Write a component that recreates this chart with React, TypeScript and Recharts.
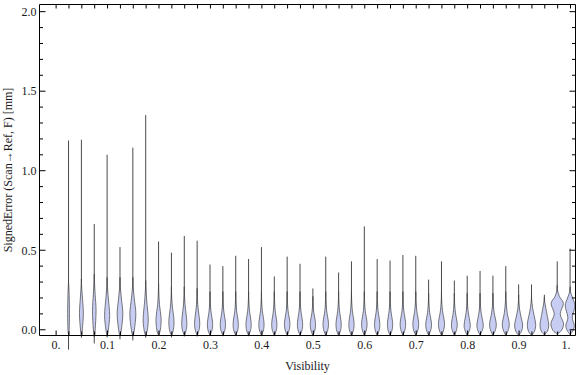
import React from "react";
import { ComposedChart, Bar, XAxis, YAxis } from "recharts";

// visibility bins (one violin per bin)
const visibility = [
  0.025, 0.05, 0.075, 0.1, 0.125, 0.15, 0.175, 0.2, 0.225, 0.25,
  0.275, 0.3, 0.325, 0.35, 0.375, 0.4, 0.425, 0.45, 0.475, 0.5,
  0.525, 0.55, 0.575, 0.6, 0.625, 0.65, 0.675, 0.7, 0.725, 0.75,
  0.775, 0.8, 0.825, 0.85, 0.875, 0.9, 0.925, 0.95, 0.975, 1.0,
];

// largest signed error per bin [mm]
const errMax = [
  1.19, 1.195, 0.665, 1.1, 0.52, 1.145, 1.35, 0.555, 0.485, 0.59,
  0.56, 0.41, 0.4, 0.465, 0.445, 0.52, 0.335, 0.46, 0.415, 0.26,
  0.46, 0.36, 0.43, 0.65, 0.445, 0.435, 0.47, 0.465, 0.315, 0.43,
  0.31, 0.34, 0.37, 0.34, 0.4, 0.285, 0.285, 0.22, 0.43, 0.51,
];

// smallest signed error per bin [mm]
const errMin = [
  -0.125, -0.05, -0.086, -0.048, -0.06, -0.067, -0.05, -0.036, -0.048, -0.042,
  -0.042, -0.04, -0.04, -0.04, -0.04, -0.04, -0.04, -0.04, -0.04, -0.04,
  -0.04, -0.04, -0.04, -0.04, -0.04, -0.04, -0.04, -0.04, -0.04, -0.04,
  -0.04, -0.04, -0.04, -0.04, -0.04, -0.04, -0.04, -0.035, -0.03, -0.03,
];

// estimated density profile per bin: [error, relative density]
const density: [number, number][][] = [
  [[-0.03, 0], [0.0, 0.2], [0.1, 0.3], [0.22, 0.2], [0.3, 0]],
  [[-0.04, 0], [0.0, 0.3], [0.1, 0.65], [0.2, 0.35], [0.27, 0.08], [0.32, 0]],
  [[-0.045, 0], [0.0, 0.3], [0.12, 0.6], [0.22, 0.3], [0.3, 0.08], [0.35, 0]],
  [[-0.04, 0], [0.0, 0.4], [0.09, 0.85], [0.2, 0.4], [0.28, 0.08], [0.33, 0]],
  [[-0.04, 0], [0.0, 0.45], [0.1, 0.95], [0.2, 0.45], [0.28, 0.08], [0.33, 0]],
  [[-0.04, 0], [0.0, 0.5], [0.1, 1.0], [0.2, 0.45], [0.28, 0.08], [0.33, 0]],
  [[-0.04, 0], [0.0, 0.55], [0.07, 0.85], [0.18, 0.35], [0.26, 0.08], [0.31, 0]],
  [[-0.035, 0], [0.0, 0.6], [0.07, 0.85], [0.16, 0.3], [0.24, 0.06], [0.29, 0]],
  [[-0.035, 0], [0.0, 0.65], [0.06, 0.85], [0.15, 0.3], [0.22, 0.06], [0.27, 0]],
  [[-0.035, 0], [0.0, 0.65], [0.05, 0.85], [0.15, 0.3], [0.22, 0.06], [0.27, 0]],
  [[-0.035, 0], [0.0, 0.65], [0.05, 0.85], [0.14, 0.3], [0.21, 0.06], [0.26, 0]],
  [[-0.035, 0], [0.0, 0.7], [0.045, 0.85], [0.12, 0.3], [0.19, 0.06], [0.24, 0]],
  [[-0.035, 0], [0.0, 0.7], [0.045, 0.85], [0.12, 0.3], [0.19, 0.06], [0.24, 0]],
  [[-0.035, 0], [0.0, 0.7], [0.045, 0.85], [0.12, 0.3], [0.19, 0.06], [0.24, 0]],
  [[-0.035, 0], [0.0, 0.7], [0.045, 0.85], [0.12, 0.3], [0.19, 0.06], [0.24, 0]],
  [[-0.035, 0], [0.0, 0.7], [0.045, 0.85], [0.12, 0.3], [0.19, 0.06], [0.24, 0]],
  [[-0.035, 0], [0.0, 0.7], [0.045, 0.85], [0.12, 0.3], [0.19, 0.06], [0.24, 0]],
  [[-0.035, 0], [0.0, 0.7], [0.045, 0.9], [0.12, 0.3], [0.19, 0.06], [0.24, 0]],
  [[-0.035, 0], [0.0, 0.7], [0.045, 0.85], [0.12, 0.3], [0.19, 0.06], [0.24, 0]],
  [[-0.035, 0], [0.0, 0.7], [0.045, 0.85], [0.11, 0.3], [0.17, 0.06], [0.21, 0]],
  [[-0.035, 0], [0.0, 0.7], [0.045, 0.9], [0.12, 0.3], [0.19, 0.06], [0.24, 0]],
  [[-0.035, 0], [0.0, 0.7], [0.045, 0.85], [0.12, 0.3], [0.19, 0.06], [0.24, 0]],
  [[-0.035, 0], [0.0, 0.7], [0.045, 0.85], [0.12, 0.3], [0.19, 0.06], [0.24, 0]],
  [[-0.035, 0], [0.0, 0.7], [0.045, 0.9], [0.12, 0.3], [0.19, 0.06], [0.24, 0]],
  [[-0.035, 0], [0.0, 0.7], [0.045, 0.85], [0.12, 0.3], [0.19, 0.06], [0.24, 0]],
  [[-0.035, 0], [0.0, 0.7], [0.045, 0.85], [0.12, 0.3], [0.19, 0.06], [0.24, 0]],
  [[-0.035, 0], [0.0, 0.7], [0.045, 0.9], [0.12, 0.3], [0.19, 0.06], [0.24, 0]],
  [[-0.035, 0], [0.0, 0.75], [0.045, 0.95], [0.12, 0.35], [0.19, 0.06], [0.24, 0]],
  [[-0.035, 0], [0.0, 0.75], [0.04, 0.95], [0.11, 0.35], [0.18, 0.06], [0.23, 0]],
  [[-0.035, 0], [0.0, 0.75], [0.045, 1.0], [0.12, 0.35], [0.19, 0.06], [0.24, 0]],
  [[-0.035, 0], [0.0, 0.75], [0.04, 0.95], [0.11, 0.35], [0.18, 0.06], [0.23, 0]],
  [[-0.035, 0], [0.0, 0.8], [0.035, 1.0], [0.11, 0.35], [0.18, 0.06], [0.23, 0]],
  [[-0.035, 0], [0.0, 0.8], [0.035, 1.05], [0.11, 0.35], [0.18, 0.06], [0.23, 0]],
  [[-0.035, 0], [0.0, 0.85], [0.04, 1.1], [0.11, 0.4], [0.18, 0.06], [0.23, 0]],
  [[-0.035, 0], [0.0, 0.85], [0.04, 1.15], [0.11, 0.45], [0.19, 0.08], [0.24, 0]],
  [[-0.035, 0], [-0.01, 0.95], [0.03, 1.35], [0.08, 0.8], [0.13, 0.3], [0.18, 0.06], [0.22, 0]],
  [[-0.035, 0], [-0.01, 1.0], [0.035, 1.4], [0.09, 0.85], [0.14, 0.35], [0.19, 0.06], [0.23, 0]],
  [[-0.03, 0], [-0.01, 1.0], [0.03, 1.45], [0.09, 0.95], [0.14, 0.45], [0.18, 0.1], [0.205, 0]],
  [[-0.025, 0], [-0.005, 1.4], [0.04, 2.1], [0.1, 1.0], [0.165, 2.05], [0.21, 0.7], [0.25, 0.1], [0.28, 0]],
  [[-0.03, 0], [0.0, 1.1], [0.03, 1.4], [0.077, 0.75], [0.15, 1.6], [0.2, 0.85], [0.24, 0.1], [0.27, 0]],
];

const xTicks = [
  0, 0.025, 0.05, 0.075, 0.1, 0.125, 0.15, 0.175, 0.2, 0.225, 0.25,
  0.275, 0.3, 0.325, 0.35, 0.375, 0.4, 0.425, 0.45, 0.475, 0.5,
  0.525, 0.55, 0.575, 0.6, 0.625, 0.65, 0.675, 0.7, 0.725, 0.75,
  0.775, 0.8, 0.825, 0.85, 0.875, 0.9, 0.925, 0.95, 0.975, 1.0,
];
const xLabels = ["0.", "0.1", "0.2", "0.3", "0.4", "0.5", "0.6", "0.7", "0.8", "0.9", "1."];
const yTicks = [
  0, 0.1, 0.2, 0.3, 0.4, 0.5, 0.6, 0.7, 0.8, 0.9, 1.0,
  1.1, 1.2, 1.3, 1.4, 1.5, 1.6, 1.7, 1.8, 1.9, 2.0,
];
const yLabels = ["0.0", "0.5", "1.0", "1.5", "2.0"];

const data = visibility.map((v, i) => ({
  x: v,
  lo: errMin[i],
  hi: errMax[i],
  profile: density[i],
}));

const FONT = "'Liberation Serif', 'Times New Roman', serif";
const X_DOMAIN = [-0.0323, 1.0097];
const Y_DOMAIN = [-0.036, 2.045];

const isStep = (v: number, step: number) => Math.abs(v / step - Math.round(v / step)) < 1e-6;

// open catmull-rom through points
function curve(pts: number[][]) {
  let d = "";
  for (let i = 0; i < pts.length - 1; i++) {
    const p0 = pts[Math.max(i - 1, 0)];
    const p1 = pts[i];
    const p2 = pts[i + 1];
    const p3 = pts[Math.min(i + 2, pts.length - 1)];
    const c1x = p1[0] + (p2[0] - p0[0]) / 6;
    const c1y = p1[1] + (p2[1] - p0[1]) / 6;
    const c2x = p2[0] - (p3[0] - p1[0]) / 6;
    const c2y = p2[1] - (p3[1] - p1[1]) / 6;
    d += `C${c1x},${c1y} ${c2x},${c2y} ${p2[0]},${p2[1]}`;
  }
  return d;
}

function Violin(props: any) {
  const { x, y, width, height, payload } = props;
  if (!payload || !(height > 0)) return null;
  const cx = x + width / 2;
  const zero = y + height;
  const ppu = height / payload.hi;
  const py = (v: number) => zero - v * ppu;
  const prof: [number, number][] = payload.profile;
  const right = prof.map(([v, w]) => [cx + w * 3, py(v)]);
  const left = prof.map(([v, w]) => [cx - w * 3, py(v)]).reverse();
  const d = `M${right[0][0]},${right[0][1]}` + curve(right) + curve(left) + "Z";
  return (
    <g>
      <line x1={cx} x2={cx} y1={py(payload.lo)} y2={py(payload.hi)} stroke="#4a4a4a" strokeWidth={1} />
      <path d={d} fill="#c7cdf3" stroke="#444" strokeWidth={0.7} />
    </g>
  );
}

const BottomTick = (p: any) => {
  const v = p.payload.value;
  const major = isStep(v, 0.1);
  const idx = Math.round(v * 10);
  return (
    <g>
      <line x1={p.x} x2={p.x} y1={p.y} y2={p.y - (major ? 5 : 4)} stroke="#000" />
      {major && (
        <text x={p.x} y={p.y + 13.5} textAnchor={idx === 10 ? "end" : "middle"}
          fontFamily={FONT} fontSize={12} fill="#1a1a1a">
          {xLabels[idx]}
        </text>
      )}
    </g>
  );
};

const TopTick = (p: any) => (
  <line x1={p.x} x2={p.x} y1={p.y} y2={p.y + 4} stroke="#000" />
);

const LeftTick = (p: any) => {
  const v = p.payload.value;
  const major = isStep(v, 0.5);
  return (
    <g>
      <line x1={p.x} x2={p.x + (major ? 6 : 3.5)} y1={p.y} y2={p.y} stroke="#000" />
      {major && (
        <text x={p.x - 3} y={p.y + 4.3} textAnchor="end" fontFamily={FONT} fontSize={12} fill="#1a1a1a">
          {yLabels[Math.round(v * 2)]}
        </text>
      )}
    </g>
  );
};

const RightTick = (p: any) => {
  const major = isStep(p.payload.value, 0.5);
  return <line x1={p.x} x2={p.x - (major ? 6 : 3.5)} y1={p.y} y2={p.y} stroke="#000" />;
};

export default function App() {
  return (
    <div style={{ position: "absolute", left: 0, top: 0, background: "#fff" }}>
      <ComposedChart width={576} height={375} data={data} margin={{ top: 3.5, right: 0, bottom: 0, left: 0 }}>
        <XAxis
          xAxisId="bottom" dataKey="x" type="number" domain={X_DOMAIN} ticks={xTicks} interval={0}
          height={39.5} tickLine={false} tickSize={0} tickMargin={0} tick={BottomTick}
          axisLine={{ stroke: "#000" }}
          label={{
            content: ({ viewBox }: any) => (
              <text x={viewBox.x + viewBox.width / 2} y={viewBox.y + 34} textAnchor="middle"
                fontFamily={FONT} fontSize={12} fill="#1a1a1a">Visibility</text>
            ),
          }}
        />
        <XAxis
          xAxisId="top" orientation="top" dataKey="x" type="number" domain={X_DOMAIN} ticks={xTicks}
          interval={0} height={1} tickLine={false} tickSize={0} tickMargin={0} tick={TopTick}
          axisLine={{ stroke: "#000" }}
        />
        <YAxis
          yAxisId="left" type="number" domain={Y_DOMAIN} ticks={yTicks} interval={0} width={39.5}
          tickLine={false} tickSize={0} tickMargin={0} tick={LeftTick} axisLine={{ stroke: "#000" }}
          label={{
            content: ({ viewBox }: any) => {
              const lx = viewBox.x + 12;
              const ly = viewBox.y + viewBox.height / 2;
              return (
                <text x={lx} y={ly} transform={`rotate(-90 ${lx} ${ly})`} textAnchor="middle"
                  fontFamily={FONT} fontSize={12} fill="#1a1a1a">
                  SignedError (Scan→Ref, F) [mm]
                </text>
              );
            },
          }}
        />
        <YAxis
          yAxisId="right" orientation="right" type="number" domain={Y_DOMAIN} ticks={yTicks} interval={0}
          width={0.5} tickLine={false} tickSize={0} tickMargin={0} tick={RightTick} axisLine={{ stroke: "#000" }}
        />
        <Bar
          xAxisId="bottom" yAxisId="left" dataKey={(d: any) => [0, d.hi]} barSize={10}
          shape={Violin} isAnimationActive={false}
        />
        <Bar
          xAxisId="top" yAxisId="right" dataKey={(d: any) => [0, d.hi]} barSize={10}
          shape={() => <g />} isAnimationActive={false}
        />
      </ComposedChart>
    </div>
  );
}
